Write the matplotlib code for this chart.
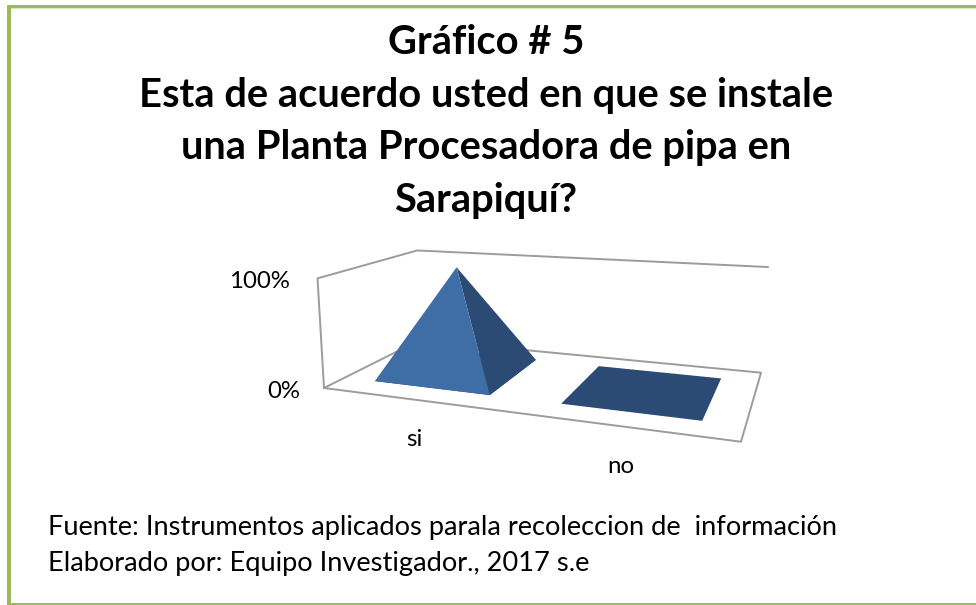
import matplotlib
matplotlib.use('Agg')
import matplotlib.pyplot as plt
from matplotlib.patches import Polygon, Rectangle

categories = ['si', 'no']
values = [100, 0]
tick_values = [0, 100]
tick_labels = ['0%', '100%']
title_lines = ['Gráfico # 5',
               'Esta de acuerdo usted en que se instale',
               'una Planta Procesadora de pipa en',
               'Sarapiquí?']
footer_lines = ['Fuente: Instrumentos aplicados parala recoleccion de  información',
                'Elaborado por: Equipo Investigador., 2017 s.e']

GREEN = '#9BBB59'
FRONT = '#3F6DA6'
SIDE = '#2B4B74'
WALL = '#9C9C9C'

# proyeccion 3D del grafico -> pixeles de la imagen
P = [[273.7, 194.4, -16.0, 324.0],
     [-31.7, 31.6, -118.0, 388.0],
     [-0.1934, 0.2342, -0.03, 1.0]]


def proj(u, v, value=0):
    z = value / 100
    w = P[2][0]*u + P[2][1]*v + P[2][2]*z + P[2][3]
    x = (P[0][0]*u + P[0][1]*v + P[0][2]*z + P[0][3]) / w
    y = (P[1][0]*u + P[1][1]*v + P[1][2]*z + P[1][3]) / w
    return x, y


fig = plt.figure(figsize=(9.76, 6.05), dpi=100)
ax = fig.add_axes([0, 0, 1, 1])
ax.set_xlim(0, 976)
ax.set_ylim(605, 0)
ax.axis('off')
plt.rcParams['font.family'] = ['Lato', 'DejaVu Sans']

# marco verde
ax.add_patch(Rectangle((7, 5), 969, 3, color=GREEN, lw=0))
ax.add_patch(Rectangle((7, 8), 969, 1, color='#DCE6C4', lw=0))
ax.add_patch(Rectangle((7, 5), 4, 600, color=GREEN, lw=0))
ax.add_patch(Rectangle((7, 603), 969, 2, color=GREEN, lw=0))

for i, line in enumerate(title_lines):
    ax.text(486, 43 + i*52.4, line, ha='center', va='center',
            fontsize=28.7, fontweight='bold', color='black')

# paredes y piso
wall = [proj(0, 0), proj(0, 0, 100), proj(0, 1, 100), proj(1, 1, 100)]
floor = [proj(0, 1), proj(0, 0), proj(1, 0), proj(1, 1), proj(0, 1)]
ax.plot(*zip(*wall), color=WALL, lw=1.4, zorder=1)
ax.plot(*zip(*floor), color=WALL, lw=1.4, zorder=1)

# piramides
half = 0.16
v0, v1 = 0.185, 0.83
for i, val in enumerate(values):
    uc = (i + 0.5) / len(categories)
    u0, u1 = uc - half, uc + half
    apex = proj(uc, (v0 + v1) / 2, val)
    fl, fr = proj(u0, v0), proj(u1, v0)
    br, bl = proj(u1, v1), proj(u0, v1)
    ax.add_patch(Polygon([fl, fr, br, bl], color=SIDE, lw=0, zorder=2))
    if val > 0:
        ax.add_patch(Polygon([fr, br, apex], color=SIDE, lw=0, zorder=2))
        ax.add_patch(Polygon([fl, fr, apex], color=FRONT, lw=0, zorder=3))
    x, y = proj(uc, 0)
    ax.text(x + 2, y + 40, categories[i], ha='center', va='center', fontsize=17.3)

for val, lab in zip(tick_values, tick_labels):
    x, y = proj(0, 0, val)
    ax.text(x - 24 - val*0.035, y + 3, lab, ha='right', va='center', fontsize=17.3)

for i, line in enumerate(footer_lines):
    ax.text(48, 528 + i*36, line, ha='left', va='center', fontsize=19.6)

fig.savefig('out.png', dpi=100)
